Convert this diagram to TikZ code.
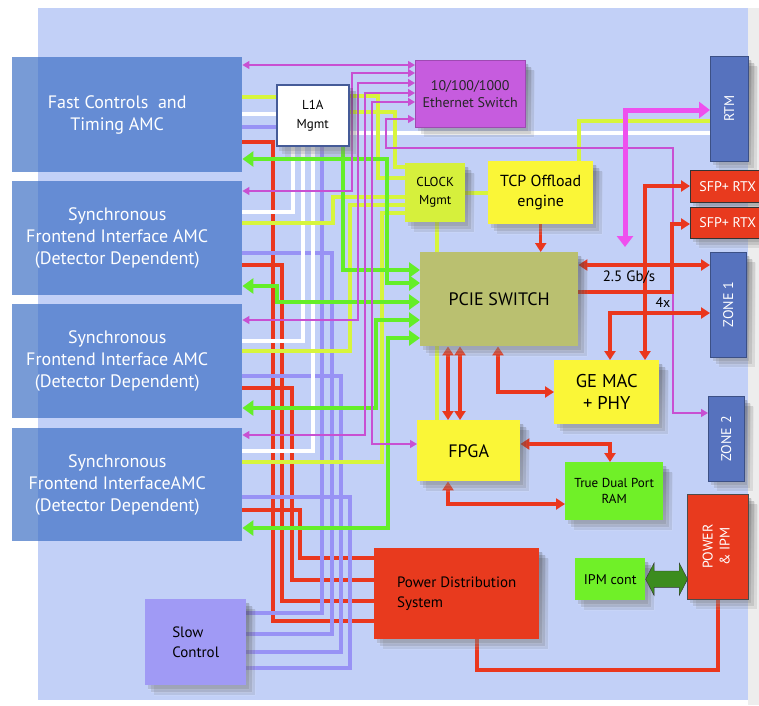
\documentclass[tikz,border=0pt]{standalone}
\usepackage{graphicx}
\usepackage{fontspec}
\setmainfont{PT Sans}
\usetikzlibrary{arrows.meta,positioning,shapes.arrows}

\definecolor{panelbg}{RGB}{194,208,247}
\definecolor{amcblue}{RGB}{57,108,196}
\definecolor{ethpurple}{RGB}{198,92,222}
\definecolor{slotblue}{RGB}{86,114,190}
\definecolor{clklime}{RGB}{214,240,60}
\definecolor{boxyellow}{RGB}{250,246,55}
\definecolor{pcieolive}{RGB}{186,192,112}
\definecolor{boxred}{RGB}{232,58,30}
\definecolor{boxgreen}{RGB}{112,240,40}
\definecolor{slowviolet}{RGB}{160,154,245}
\definecolor{wred}{RGB}{234,55,30}
\definecolor{wgreen}{RGB}{100,238,40}
\definecolor{wlime}{RGB}{215,245,60}
\definecolor{wlav}{RGB}{152,146,245}
\definecolor{wmag}{RGB}{200,80,210}
\definecolor{wpink}{RGB}{238,80,238}
\definecolor{ipmarrow}{RGB}{60,140,30}
\definecolor{shade}{RGB}{30,40,80}

\pgfdeclarelayer{panel}
\pgfdeclarelayer{wires}
\pgfdeclarelayer{shadow}
\pgfsetlayers{panel,wires,shadow,main}

\begin{document}
\begin{tikzpicture}[x=1pt, y=-1pt,
  blk/.style={anchor=north west, inner sep=1pt, align=center},
  amc/.style={anchor=north west, fill=amcblue, fill opacity=.68, minimum width=230pt},
  amctext/.style={xshift=-10pt, text=white, align=center, font=\fontsize{18}{22}\selectfont},
  slot/.style={blk, fill=slotblue, draw=slotblue!70!black, text=white, font=\fontsize{14}{16}\selectfont},
  sfp/.style={blk, fill=boxred, draw=black!80, text=white, minimum width=75pt, font=\fontsize{14}{16}\selectfont},
  rw/.style={draw=wred, line width=3.5pt, >={Triangle[length=9pt,width=11pt]}},
  gw/.style={draw=wgreen, line width=4.5pt, >={Triangle[length=11pt,width=15pt]}},
  lw/.style={draw=wlime, line width=3.5pt},
  ww/.style={draw=white, line width=3.5pt},
  vw/.style={draw=wlav, line width=3.5pt},
  mw/.style={draw=wmag, line width=1.3pt, >={Triangle[length=7pt,width=8pt]}},
  pw/.style={draw=wpink, line width=5pt, >={Triangle[length=11pt,width=16pt]}}]
\useasboundingbox (0,0) rectangle (759,705);
\begin{pgfonlayer}{panel}
  \fill[white] (0,0) rectangle (759,705);
  \fill[black!7] (748,8) rectangle (759,705);
  \fill[panelbg] (38,8) rectangle (748,700);
\end{pgfonlayer}

% AMC cards on the left
\node[amc, minimum height=115pt, label={[amctext]center:Fast Controls\ \ and\\Timing AMC}] (fc) at (12,57) {};
\node[amc, minimum height=114pt, label={[amctext]center:Synchronous\\Frontend Interface AMC\\(Detector Dependent)}] (s1) at (12,181) {};
\node[amc, minimum height=114pt, label={[amctext]center:Synchronous\\Frontend Interface AMC\\(Detector Dependent)}] (s2) at (12,304) {};
\node[amc, minimum height=113pt, label={[amctext]center:Synchronous\\Frontend InterfaceAMC\\(Detector Dependent)}] (s3) at (12,428) {};

% hub blocks
\node[blk, fill=white, draw=slotblue!80!black, line width=1.5pt, minimum width=72pt, minimum height=61pt, font=\fontsize{13}{19}\selectfont] (l1a) at (276,84) {L1A\\Mgmt};
\node[blk, fill=ethpurple, draw=ethpurple!80!black, text=black!85, minimum width=110pt, minimum height=67pt, font=\fontsize{14}{17}\selectfont] (eth) at (415,60) {10/100/1000\\Ethernet Switch};
\node[slot, minimum width=38pt, minimum height=105pt] (rtm) at (710,56) {\rotatebox{90}{RTM}};
\node[blk, fill=clklime, minimum width=60pt, minimum height=59pt, font=\fontsize{13}{18}\selectfont] (clk) at (405,163) {CLOCK\\Mgmt};
\node[blk, fill=boxyellow, minimum width=105pt, minimum height=63pt, font=\fontsize{16}{20}\selectfont] (tcp) at (488,161) {TCP Offload\\engine};
\node[sfp, minimum height=32pt] (sfpa) at (690,170) {SFP+ RTX};
\node[sfp, minimum height=31pt] (sfpb) at (690,207) {SFP+ RTX};
\node[blk, fill=pcieolive, minimum width=158pt, minimum height=94pt, font=\fontsize{18}{20}\selectfont] (pcie) at (420,252) {PCIE SWITCH};
\node[slot, minimum width=36pt, minimum height=105pt] (zonea) at (710,252) {\rotatebox{90}{ZONE 1}};
\node[blk, fill=boxyellow, minimum width=105pt, minimum height=64pt, font=\fontsize{18.5}{22}\selectfont] (gemac) at (554,360) {GE MAC\\+ PHY};
\node[slot, minimum width=36pt, minimum height=85pt] (zoneb) at (708,396) {\rotatebox{90}{ZONE 2}};
\node[blk, fill=boxyellow, minimum width=103pt, minimum height=61pt, font=\fontsize{18}{20}\selectfont] (fpga) at (417,420) {FPGA};
\node[blk, fill=boxgreen, minimum width=98pt, minimum height=58pt, font=\fontsize{13}{16}\selectfont] (ram) at (565,462) {True Dual Port\\RAM};
\node[blk, fill=boxred, draw=black!70, text=white, minimum width=61pt, minimum height=105pt, font=\fontsize{14}{17}\selectfont] (pwr) at (687,494) {\rotatebox{90}{\begin{tabular}{@{}c@{}}POWER\\\& IPM\end{tabular}}};
\node[blk, fill=boxgreen, minimum width=70pt, minimum height=42pt, font=\fontsize{14}{16}\selectfont] (ipm) at (575,558) {IPM cont};
\node[blk, fill=boxred, minimum width=165pt, minimum height=91pt, align=left, font=\fontsize{15}{20}\selectfont] (pds) at (374,548) {Power Distribution\\System};
\node[blk, fill=slowviolet, minimum width=101pt, minimum height=86pt, align=left, font=\fontsize{15}{20}\selectfont] (slow) at (145,599) {Slow\\Control};
\node[double arrow, fill=ipmarrow, draw=black!80, anchor=west, minimum height=42pt, text height=0pt, text depth=0pt, inner xsep=0pt, inner ysep=8pt, double arrow head extend=8pt, double arrow tip angle=125] (ipmlink) at (ipm.east) {};

% link rates
\node[font=\fontsize{15}{17}\selectfont] (rate) at (629,277) {2.5 Gb/s};
\node[font=\fontsize{14}{16}\selectfont] (lanes) at (663,303) {4x};
\coordinate (pinkend) at (625,247);

% soft shadows under the blocks
\begin{pgfonlayer}{shadow}
\foreach \n in {l1a,eth,rtm,clk,tcp,sfpa,sfpb,pcie,zonea,gemac,zoneb,fpga,ram,pwr,ipm,pds,slow}
  \foreach \d/\o in {3/.14, 6/.12, 9/.09}
    \fill[shade, fill opacity=\o] ([shift={(\d,\d+1)}]\n.north west) rectangle ([shift={(\d,\d+1)}]\n.south east);
\end{pgfonlayer}

\begin{pgfonlayer}{wires}
% power feeds: card -> distribution
\foreach \src/\y/\x/\t in {fc/142/273/621, s1/265/282/601, s2/388/292/580, s3/510/300/558}
  \draw[rw] (\src.east |- 0,\y) -| (\x,\t) -- (pds.west |- 0,\t);
\draw[rw] (477,0 |- pds.south) |- (718,670) -- (718,0 |- pwr.south);
% slow control bus
\draw[vw] (fc.east |- 0,127) -- (l1a.west |- 0,127);
\draw[vw] (322,0 |- l1a.south) |- (slow.east |- 0,613);
\foreach \src/\y/\x/\t in {s1/253/332/634, s2/376/341/652, s3/497/350/668}
  \draw[vw] (\src.east |- 0,\y) -| (\x,\t) -- (slow.east |- 0,\t);
% L1A fan-out
\draw[ww] (fc.east |- 0,114) -- (l1a.west |- 0,114);
\draw[ww] (l1a.east |- 0,133) -- (rtm.west |- 0,133);
\foreach \x/\dst/\y in {293/s1/212, 303/s2/341, 313/s3/451}
  \draw[ww] (\x,0 |- l1a.south) |- (\dst.east |- 0,\y);
% clock distribution
\draw[lw] (fc.east |- 0,97) -- (l1a.west |- 0,97);
\draw[lw] (l1a.east |- 0,96) -| (378,178) -- (clk.west |- 0,178);
\draw[lw] (l1a.east |- 0,112) -| (395,167) -- (clk.west |- 0,167);
\foreach \src/\y/\x/\t in {s1/223/333/197, s2/351/350/205, s3/462/382/213}
  \draw[lw] (\src.east |- 0,\y) -| (\x,\t) -- (clk.west |- 0,\t);
\draw[lw] (437,0 |- clk.south) -- (437,0 |- fpga.north);
\draw[lw] (clk.east |- 0,193) -- (tcp.west |- 0,193);
\draw[lw] (579,0 |- tcp.north) |- (rtm.west |- 0,121);
% PCIe lanes
\draw[gw, ->] (343,0 |- l1a.south) |- (pcie.west |- 0,270);
\foreach \src/\y/\x/\t in {fc.east/159/387/283, s1.east/286/277/302, s2.east/408/376/320, s3.east/528/388/338}
  \draw[gw, <->] (\src |- 0,\y) -| (\x,\t) -- (pcie.west |- 0,\t);
% ethernet
\draw[mw, <->] (fc.east |- 0,65) -- (eth.west |- 0,65);
\foreach \src/\y/\x/\t in {s1.east/191/352/73, s2.east/320/358/83, s3.east/435/365/93, fpga.west/444/372/102}
  \draw[mw, <->] (\src |- 0,\y) -| (\x,\t) -- (eth.west |- 0,\t);
\draw[mw, <->] (zoneb.west |- 0,413) -| (673,148) -| (386,119) -- (eth.west |- 0,119);
\draw[pw, <->] (pinkend) |- (rtm.west |- 0,110);
% data path
\draw[rw, ->] (tcp.south) -- (tcp.south |- pcie.north);
\draw[rw, <->] (pcie.east |- 0,265) -- (zonea.west |- 0,265);
\draw[rw, ->] (pcie.east |- 0,292) -| (672,224) -- (sfpb.west |- 0,224);
\draw[rw, <->] (sfpa.west |- 0,186) -| (645,0 |- gemac.north);
\draw[rw, <->] (zonea.west |- 0,313) -| (610,0 |- gemac.north);
\draw[rw, <->] (498,0 |- pcie.south) |- (gemac.west |- 0,392);
\foreach \x in {448,460}
  \draw[rw, <->] (\x,0 |- pcie.south) -- (\x,0 |- fpga.north);
\draw[rw, <->] (fpga.east |- 0,444) -| (610,0 |- ram.north);
\draw[rw, <->] (448,0 |- fpga.south) |- (ram.west |- 0,504);
\end{pgfonlayer}
\end{tikzpicture}
\end{document}
